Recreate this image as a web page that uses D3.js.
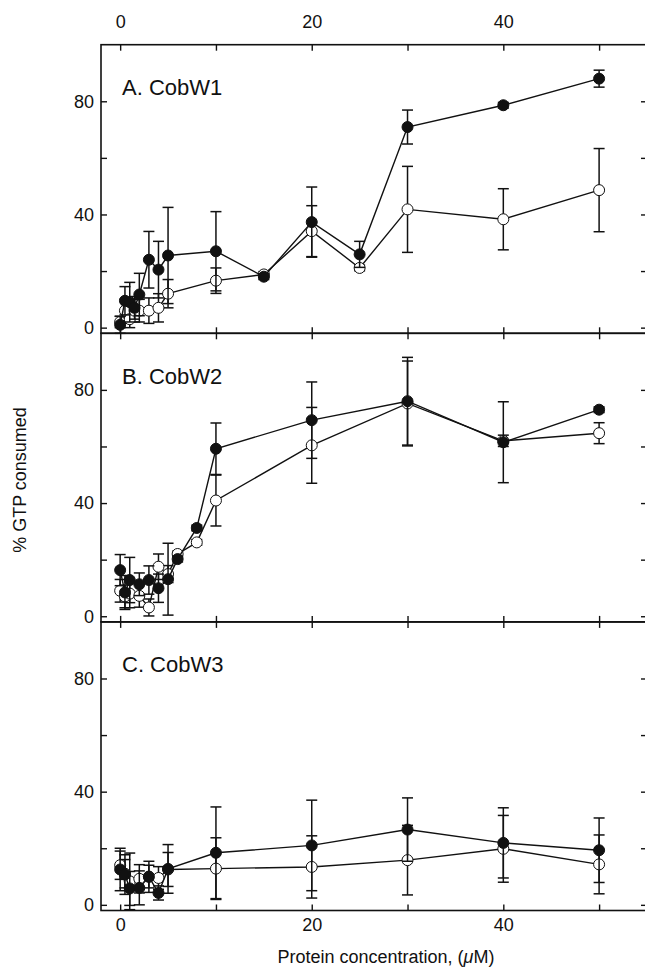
<!DOCTYPE html>
<html>
<head>
<meta charset="utf-8">
<script src="https://cdn.jsdelivr.net/npm/d3@7"></script>
<style>
  html, body { margin: 0; padding: 0; background: #fff; }
  svg { display: block; font-family: "Liberation Sans", Arial, Helvetica, sans-serif; }
</style>
</head>
<body>
<svg id="chart" width="645" height="977"></svg>
<script>
// GTP hydrolysis (% consumed) versus protein concentration (µM)
// Filled circles and open circles are two assay conditions; error bars are ± SD.

const panelTitles = ["A. CobW1", "B. CobW2", "C. CobW3"];

// CobW1
const xA       = [0, 0.5, 1, 1.5, 2, 3, 4, 5, 10, 15, 20, 25, 30, 40, 50];
const filledA  = [1, 9.5, 9, 7, 11.7, 24, 20.5, 25.5, 27, 18, 37.3, 25.9, 70.9, 78.6, 88];
const filledAErr = [3, 5, 7, 4, 7.5, 10, 10, 17, 14, 1, 12.4, 4.6, 6, 1, 3];
const openA    = [2, 6, 3, 6, 6, 6, 7, 12, 16.6, 18.8, 34.1, 21.1, 41.8, 38.3, 48.6];
const openAErr = [2, 4, 3, 4, 4, 4.5, 5, 5, 4.5, 1, 9, 1, 15.2, 10.8, 14.7];

// CobW2
const xB       = [0, 0.5, 1, 2, 3, 4, 5, 6, 8, 10, 20, 30, 40, 50];
const filledB  = [16.3, 8.4, 12.8, 11.3, 12.8, 9.9, 13.1, 20.2, 31.2, 59.2, 69.3, 76, 61.5, 73];
const filledBErr = [5.5, 6, 8, 4, 5, 5, 12.7, 1, 1, 9.1, 13.5, 15.5, 14.3, 1];
const openB    = [9, 7, 8, 7.2, 3.1, 17.5, 14.9, 22, 26.1, 40.9, 60.4, 75.2, 62, 64.7];
const openBErr = [4, 4, 5, 4, 3, 4.5, 3, 1, 1, 9, 13.4, 15, 2, 3.7];

// CobW3
const xC       = [0, 0.5, 1, 2, 3, 4, 5, 10, 20, 30, 40, 50];
const filledC  = [12.5, 10.7, 5.8, 6, 9.9, 4.2, 12.7, 18.4, 21, 26.6, 21.9, 19.3];
const filledCErr = [7.5, 7, 6, 6, 5.5, 2.5, 8.6, 16.2, 16, 11.2, 12.4, 11.4];
const openC    = [14, 11, 8.3, 9.2, 10, 9.5, 12.5, 12.8, 13.4, 15.8, 19.8, 14.3];
const openCErr = [5, 5, 10, 5, 4, 4, 6, 10.9, 11, 12.3, 11.8, 10.4];

const xTicks = [0, 10, 20, 30, 40, 50];
const xTickLabels = [0, 20, 40];
const yTicks = [0, 20, 40, 60, 80];
const yTickLabels = [0, 40, 80];

const xLabel = "Protein concentration, (";
const xUnit = "μ";
const xUnitRest = "M)";
const yLabel = "% GTP consumed";

const panels = [
  { title: panelTitles[0], x: xA, filled: filledA, filledErr: filledAErr, open: openA, openErr: openAErr },
  { title: panelTitles[1], x: xB, filled: filledB, filledErr: filledBErr, open: openB, openErr: openBErr },
  { title: panelTitles[2], x: xC, filled: filledC, filledErr: filledCErr, open: openC, openErr: openCErr }
];

const svg = d3.select("#chart");
const left = 101, right = 647;
const top0 = 44.7, panelH = 288.6;
const ink = "#111";
const tickLen = 6;

const x = d3.scaleLinear().domain([-2, 55]).range([left, right]);

panels.forEach((p, i) => {
  const top = top0 + i * panelH;
  const bottom = top + panelH;
  const y = d3.scaleLinear().domain([-2, 100]).range([bottom, top]);
  const g = svg.append("g");

  // y axes (ticks inward on both sides)
  const yFmt = d => yTickLabels.includes(d) ? d : "";
  const yl = g.append("g").attr("transform", `translate(${left},0)`)
    .call(d3.axisLeft(y).tickValues(yTicks).tickSize(-tickLen).tickPadding(7).tickFormat(yFmt));
  const yr = g.append("g").attr("transform", `translate(${right},0)`)
    .call(d3.axisRight(y).tickValues(yTicks).tickSize(-tickLen).tickFormat(""));

  // x axes (ticks inward at top and bottom of every panel)
  const xFmt = d => xTickLabels.includes(d) ? d : "";
  const xt = g.append("g").attr("transform", `translate(0,${top})`)
    .call(d3.axisTop(x).tickValues(xTicks).tickSize(-tickLen).tickPadding(17)
      .tickFormat(i === 0 ? xFmt : ""));
  const xb = g.append("g").attr("transform", `translate(0,${bottom})`)
    .call(d3.axisBottom(x).tickValues(xTicks).tickSize(-tickLen).tickPadding(8)
      .tickFormat(i === 2 ? xFmt : ""));

  [yl, yr, xt, xb].forEach(a => {
    a.select(".domain").remove();
    a.selectAll(".tick line").attr("stroke", ink).attr("stroke-width", 1.4);
    a.selectAll(".tick text").attr("fill", ink).attr("font-size", 18)
      .attr("font-family", "'Liberation Sans', Arial, Helvetica, sans-serif");
  });

  // frame
  g.append("rect")
    .attr("x", left).attr("y", top)
    .attr("width", right - left).attr("height", panelH)
    .attr("fill", "none").attr("stroke", ink).attr("stroke-width", 1.6);

  // panel title
  g.append("text")
    .attr("x", 122).attr("y", top + 50.5)
    .attr("font-size", 22).attr("fill", ink)
    .text(p.title);

  const line = d3.line().x(d => x(d.x)).y(d => y(d.y));

  const drawSeries = (vals, errs, filled) => {
    const data = p.x.map((xv, k) => ({ x: xv, y: vals[k], e: errs[k] }));
    const s = g.append("g");
    s.append("path").datum(data)
      .attr("d", line).attr("fill", "none")
      .attr("stroke", ink).attr("stroke-width", 1.4);
    const eb = s.selectAll(".err").data(data).enter().append("g");
    eb.append("line")
      .attr("x1", d => x(d.x)).attr("x2", d => x(d.x))
      .attr("y1", d => y(d.y - d.e)).attr("y2", d => y(d.y + d.e))
      .attr("stroke", ink).attr("stroke-width", 1.5);
    [-1, 1].forEach(sgn => {
      eb.append("line")
        .attr("x1", d => x(d.x) - 5.5).attr("x2", d => x(d.x) + 5.5)
        .attr("y1", d => y(d.y + sgn * d.e)).attr("y2", d => y(d.y + sgn * d.e))
        .attr("stroke", ink).attr("stroke-width", 1.5);
    });
    s.selectAll("circle").data(data).enter().append("circle")
      .attr("cx", d => x(d.x)).attr("cy", d => y(d.y)).attr("r", 5.5)
      .attr("fill", filled ? ink : "#fff")
      .attr("stroke", ink).attr("stroke-width", 1);
  };

  drawSeries(p.open, p.openErr, false);
  drawSeries(p.filled, p.filledErr, true);
});

// axis titles
const xt = svg.append("text")
  .attr("x", 386).attr("y", 963)
  .attr("text-anchor", "middle").attr("font-size", 18).attr("fill", ink);
xt.append("tspan").text(xLabel);
xt.append("tspan").attr("font-style", "italic").text(xUnit);
xt.append("tspan").text(xUnitRest);

svg.append("text")
  .attr("transform", "translate(26,480) rotate(-90)")
  .attr("text-anchor", "middle").attr("font-size", 18).attr("fill", ink)
  .text(yLabel);
</script>
</body>
</html>
